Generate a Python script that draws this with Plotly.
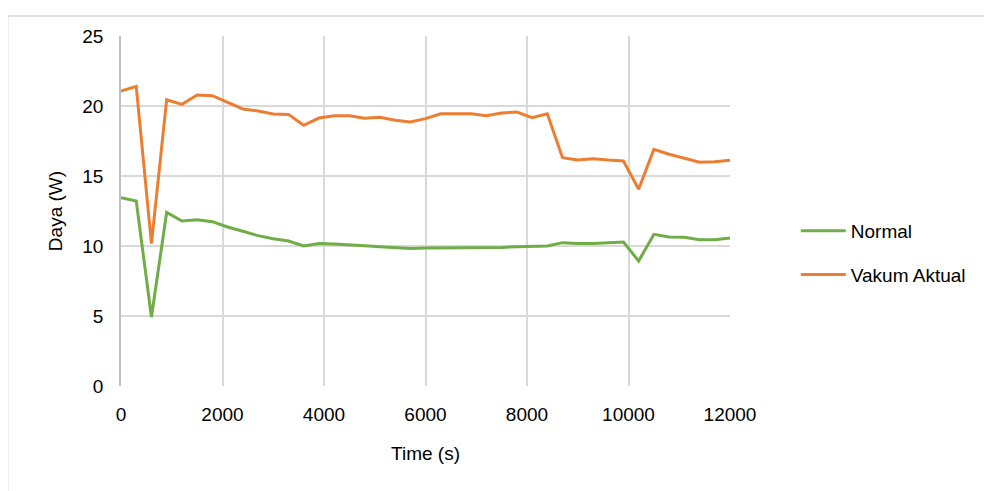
import plotly.graph_objects as go

time_s = [0, 300, 600, 900, 1200, 1500, 1800, 2100, 2400, 2700, 3000, 3300, 3600, 3900,
          4200, 4500, 4800, 5100, 5400, 5700, 6000, 6300, 6600, 6900, 7200, 7500, 7800,
          8100, 8400, 8700, 9000, 9300, 9600, 9900, 10200, 10500, 10800, 11100, 11400,
          11700, 12000]

normal = [13.45, 13.21, 4.93, 12.40, 11.79, 11.88, 11.74, 11.36, 11.05, 10.74, 10.52, 10.36,
          10.00, 10.17, 10.14, 10.10, 10.02, 9.95, 9.90, 9.83, 9.86, 9.86, 9.86, 9.88, 9.86,
          9.90, 9.95, 10.00, 10.00, 10.24, 10.17, 10.17, 10.24, 10.29, 8.93, 10.83, 10.64,
          10.62, 10.45, 10.45, 10.57]

vakum_aktual = [21.07, 21.40, 10.17, 20.45, 20.12, 20.79, 20.74, 20.26, 19.79, 19.64, 19.43,
                19.40, 18.62, 19.14, 19.31, 19.31, 19.12, 19.19, 18.98, 18.86, 19.10, 19.45,
                19.45, 19.45, 19.31, 19.50, 19.57, 19.17, 19.45, 16.31, 16.14, 16.24, 16.14,
                16.07, 14.05, 16.90, 16.55, 16.24, 15.98, 16.02, 16.12]

series_names = ["Normal", "Vakum Aktual"]
x_ticks = [0, 2000, 4000, 6000, 8000, 10000, 12000]
y_ticks = [0, 5, 10, 15, 20, 25]

grid = "#d9d9d9"
font = "Liberation Sans, Arial, sans-serif"

fig = go.Figure()
fig.add_trace(go.Scatter(x=time_s, y=normal, name=series_names[0], mode="lines",
                         line=dict(color="#70AD47", width=3), legendgroup="a"))
fig.add_trace(go.Scatter(x=time_s, y=vakum_aktual, name=series_names[1], mode="lines",
                         line=dict(color="#ED7D31", width=3), legendgroup="b"))

fig.update_layout(
    width=992, height=491,
    margin=dict(l=113, r=270, t=28, b=113),
    paper_bgcolor="white", plot_bgcolor="white",
    font=dict(family=font, size=19, color="#000000"),
    showlegend=True,
    legend=dict(x=1.108, xanchor="left", y=0.38, yanchor="middle",
                font=dict(size=19), tracegroupgap=16, itemwidth=45,
                bgcolor="rgba(0,0,0,0)"),
    xaxis=dict(range=[0, 12000], tickvals=x_ticks, ticktext=[str(v) for v in x_ticks],
               showgrid=True, gridcolor=grid, gridwidth=1.5, zeroline=False,
               showline=False, ticks="", ticklabelstandoff=15,
               title=dict(text="Time (s)", standoff=22, font=dict(size=19))),
    yaxis=dict(range=[0, 25], tickvals=y_ticks, showgrid=True, gridcolor=grid, gridwidth=1.5,
               zeroline=False, showline=True, linecolor="#bfbfbf", linewidth=1.5,
               ticks="", ticklabelstandoff=12,
               title=dict(text="Daya (W)", standoff=15, font=dict(size=19))),
    shapes=[
        dict(type="line", xref="paper", yref="paper", x0=-0.186, x1=1.5, y0=1.057, y1=1.057,
             line=dict(color=grid, width=1.5)),
        dict(type="line", xref="paper", yref="paper", x0=-0.186, x1=-0.186, y0=1.057, y1=-0.4,
             line=dict(color=grid, width=1.5)),
    ],
)

fig.write_html("out.html")
